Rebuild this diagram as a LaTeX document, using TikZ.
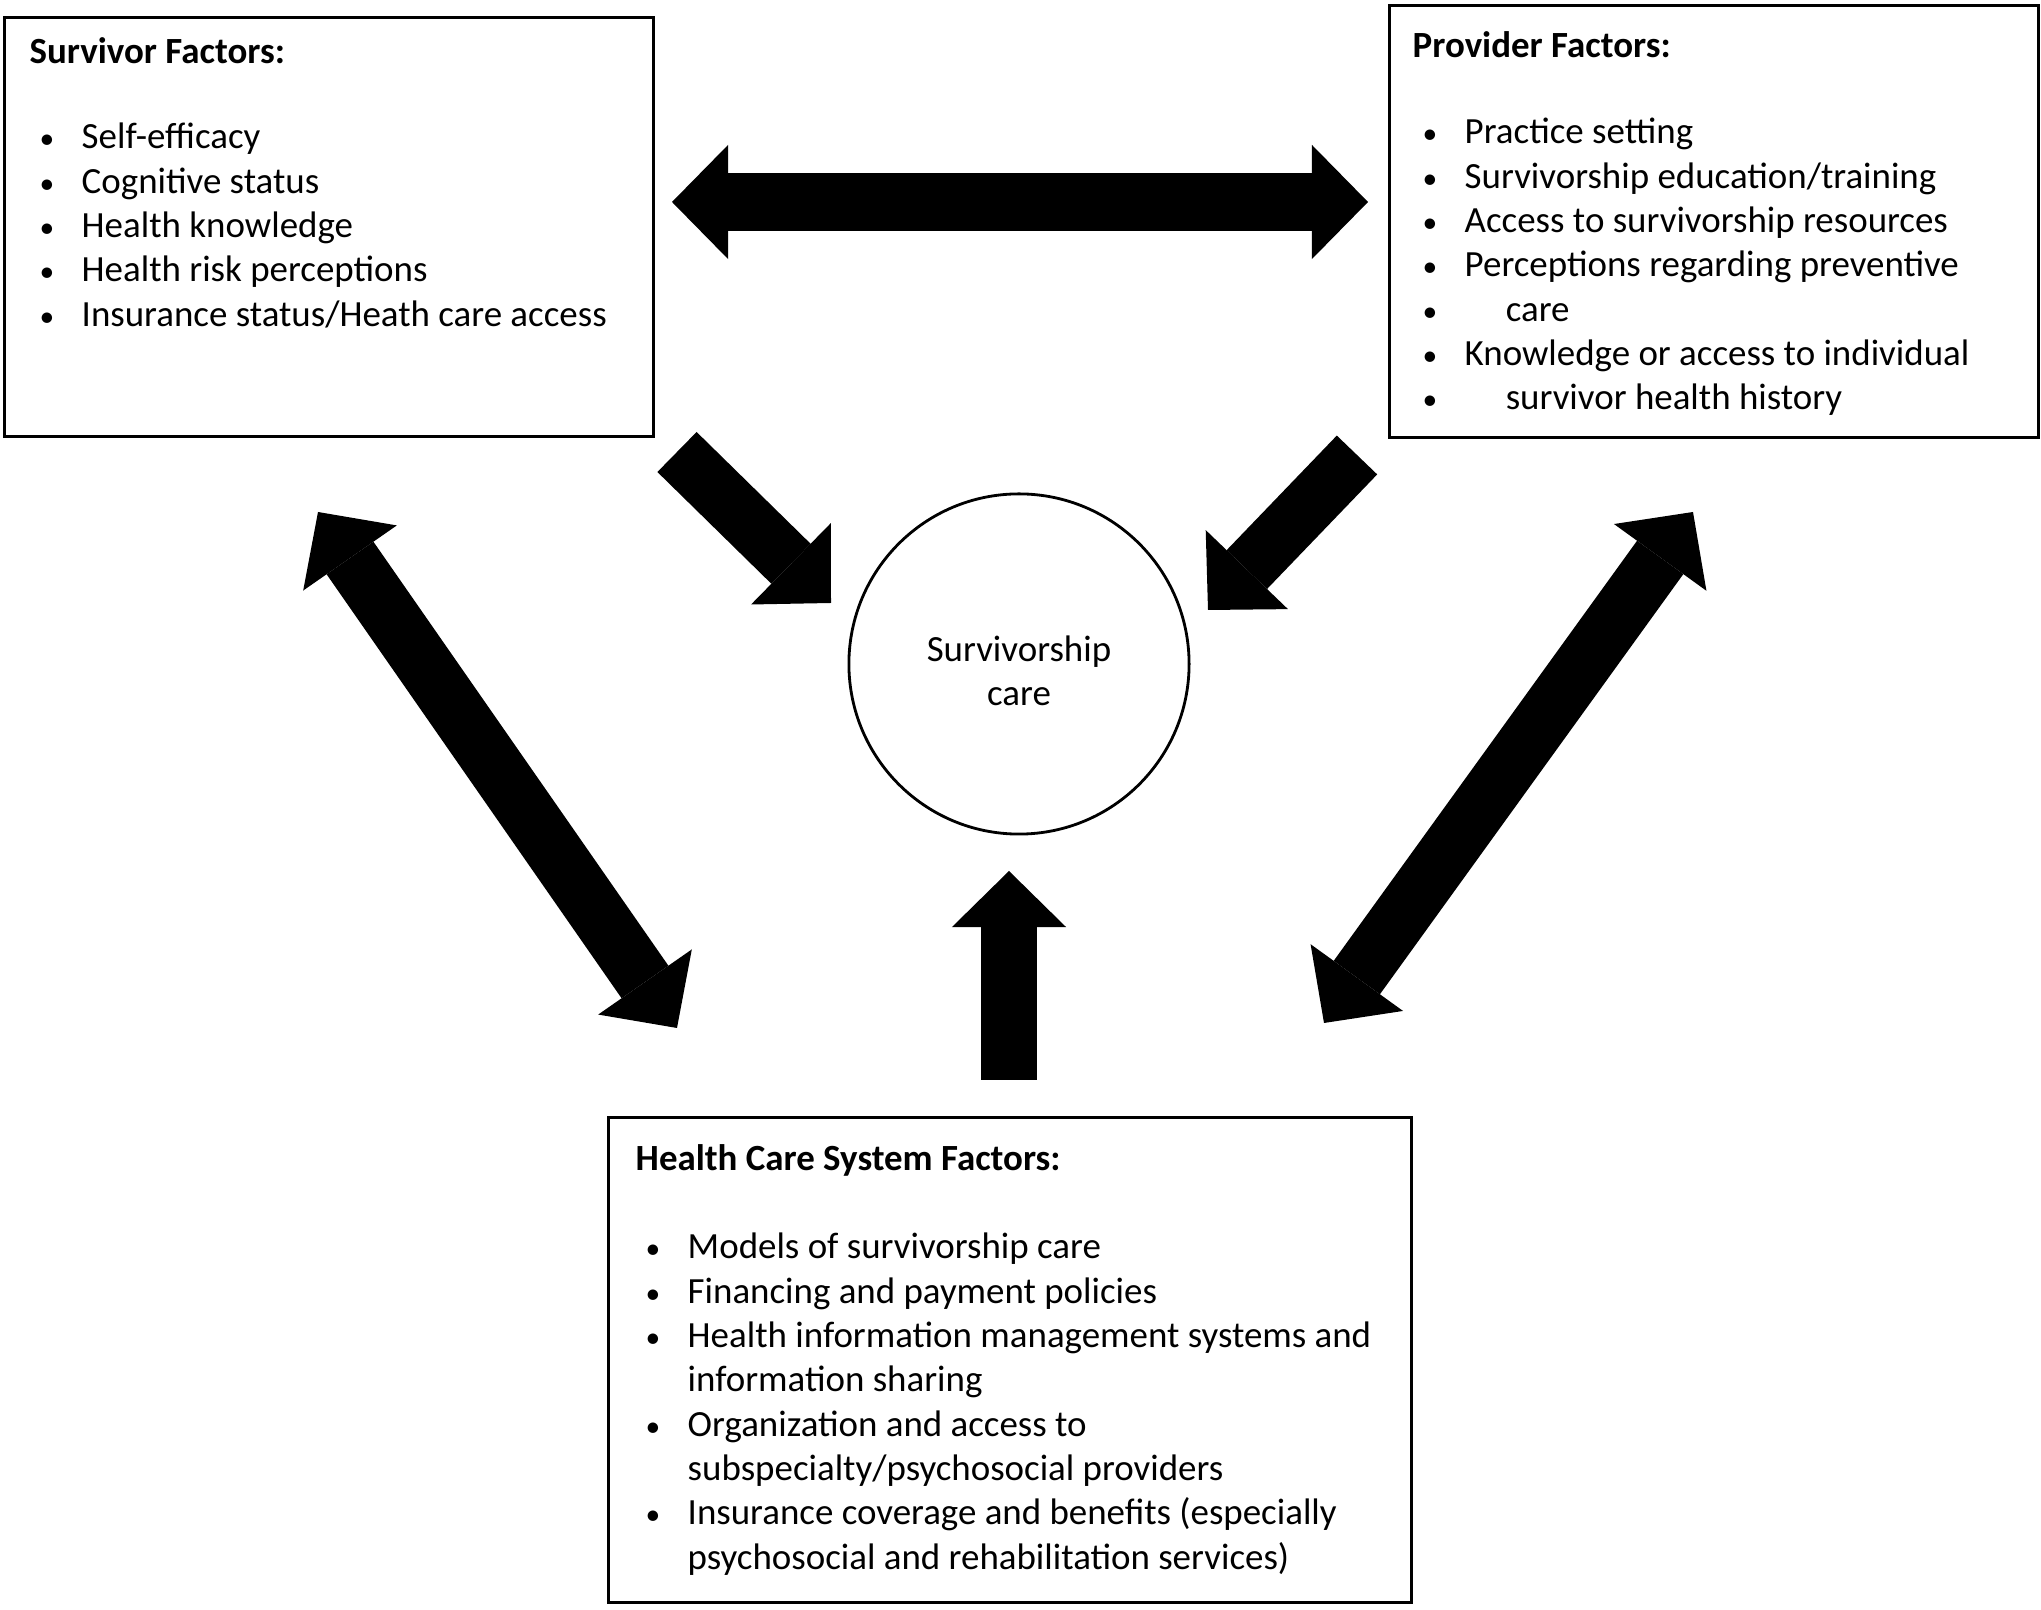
\documentclass[tikz,border=0pt]{standalone}
\usepackage{fontspec}
\setmainfont{Carlito}
\usetikzlibrary{arrows.meta}
\newcommand{\itm}[1]{\makebox[0.52cm][l]{\hspace{0.1cm}\scalebox{0.8}{\textbullet}}#1}
\newcommand{\cont}[1]{\hspace*{0.52cm}#1}
\tikzset{
  factorbox/.style={draw, line width=0.8pt, inner sep=0pt, anchor=north west},
  factortext/.style={align=left, inner sep=0pt, anchor=north west, font=\fontsize{10.5}{12.6}\selectfont},
  fathead/.tip={Triangle[width=1.14cm, length=0.56cm, line width=0pt]},
  fatone/.style={line width=0.56cm, -{fathead}},
  fattwo/.style={line width=0.57cm, {fathead}-{fathead}},
}
\begin{document}
\begin{tikzpicture}[x=0.01cm, y=-0.01cm]
    \useasboundingbox (0,0) rectangle (2041,1610);

    % boxes
    \node[factorbox, minimum width=6.49cm, minimum height=4.19cm] (surv) at (3,16) {};
    \node[factorbox, minimum width=6.49cm, minimum height=4.32cm] (prov) at (1388,4) {};
    \node[factorbox, minimum width=8.03cm, minimum height=4.85cm] (hcs) at (607,1116) {};

    \node[factortext] (survtxt) at (29,37) {\textbf{Survivor Factors:}\\[0.41cm]
        \itm{Self-efficacy}\\
        \itm{Cognitive status}\\
        \itm{Health knowledge}\\
        \itm{Health risk perceptions}\\
        \itm{Insurance status/Heath care access}};

    \node[factortext] (provtxt) at (1412,31) {\textbf{Provider Factors:}\\[0.42cm]
        \itm{Practice setting}\\
        \itm{Survivorship education/training}\\
        \itm{Access to survivorship resources}\\
        \itm{Perceptions regarding preventive}\\
        \itm{\hspace*{0.41cm}care}\\
        \itm{Knowledge or access to individual}\\
        \itm{\hspace*{0.41cm}survivor health history}};

    \node[factortext] (hcstxt) at (635,1144) {\textbf{Health Care System Factors:}\\[0.44cm]
        \itm{Models of survivorship care}\\
        \itm{Financing and payment policies}\\
        \itm{Health information management systems and}\\
        \cont{information sharing}\\
        \itm{Organization and access to}\\
        \cont{subspecialty/psychosocial providers}\\
        \itm{Insurance coverage and benefits (especially}\\
        \cont{psychosocial and rehabilitation services)}};

    % centre
    \node[circle, draw, line width=0.8pt, minimum size=3.4cm] (care) at (1019,664) {};
    \node[align=center, inner sep=0pt, font=\fontsize{10.5}{12.6}\selectfont]
        (caretxt) at (1019,671) {Survivorship\\care};

    % arrow ends
    \coordinate (h1) at (672,202);
    \coordinate (h2) at (1368,202);
    \coordinate (sl) at (677,452);
    \coordinate (tl) at (831,603);
    \coordinate (sr) at (1357,455);
    \coordinate (tr) at (1208,610);
    \coordinate (sb) at (1009,1080);
    \coordinate (tb) at (1009,871);
    \coordinate (l1) at (318,512);
    \coordinate (l2) at (677,1028);
    \coordinate (r1) at (1693,512);
    \coordinate (r2) at (1324,1023);

    \draw[fattwo] (h1) -- (h2);
    \draw[fatone] (sl) -- (tl);
    \draw[fatone] (sr) -- (tr);
    \draw[fatone] (sb) -- (tb);
    \draw[fattwo] (l1) -- (l2);
    \draw[fattwo] (r1) -- (r2);
\end{tikzpicture}
\end{document}
